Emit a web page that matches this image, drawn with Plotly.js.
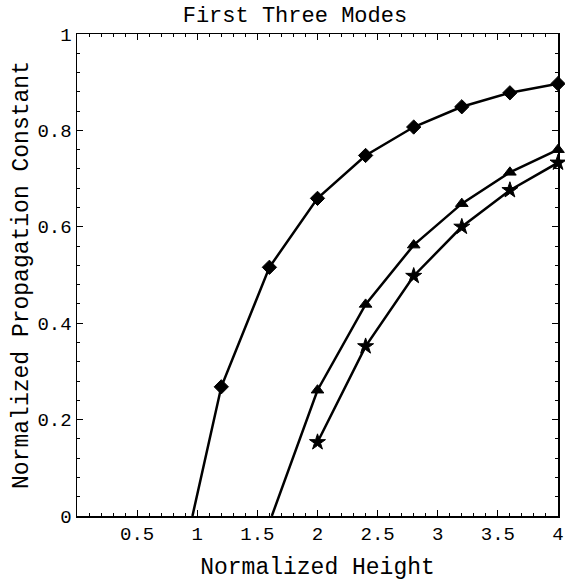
<!DOCTYPE html>
<html>
<head>
<meta charset="utf-8">
<script src="https://cdn.plot.ly/plotly-3.0.1.min.js"></script>
<style>html,body{margin:0;padding:0;background:#fff;}#chart{width:565px;height:581px;}</style>
</head>
<body>
<div id="chart"></div>
<script>
// Mode 1 (diamonds)
const mode1X = [0.96, 1.2, 1.6, 2.0, 2.4, 2.8, 3.2, 3.6, 4.0];
const mode1Y = [0, 0.268, 0.516, 0.659, 0.748, 0.807, 0.849, 0.878, 0.897];
// Mode 2 (triangles)
const mode2X = [1.62, 2.0, 2.4, 2.8, 3.2, 3.6, 4.0];
const mode2Y = [0, 0.261, 0.439, 0.562, 0.648, 0.713, 0.760];
// Mode 3 (stars)
const mode3X = [2.0, 2.4, 2.8, 3.2, 3.6, 4.0];
const mode3Y = [0.153, 0.352, 0.498, 0.600, 0.676, 0.733];

const xTickVals = [0.5, 1, 1.5, 2, 2.5, 3, 3.5, 4];
const xTickText = ["0.5", "1", "1.5", "2", "2.5", "3", "3.5", "4"];
const yTickVals = [0, 0.2, 0.4, 0.6, 0.8, 1];
const yTickText = ["0", "0.2", "0.4", "0.6", "0.8", "1"];

const FONT = "Liberation Mono, Courier New, monospace";

function sizes(arr, hideFirst, s) {
  return arr.map((v, i) => (hideFirst && i === 0) ? 0 : s);
}

function trace(xs, ys, symbol, hideFirst, s) {
  return {x: xs, y: ys, mode: 'lines+markers', line: {color: '#000', width: 2.5},
    marker: {symbol: symbol, size: sizes(xs, hideFirst, s), color: '#000', opacity: 1,
             line: {color: '#000', width: 1}},
    cliponaxis: false};
}

const traces = [
  trace(mode1X, mode1Y, 'diamond', true, 11),
  trace(mode2X, mode2Y, 'triangle-up', true, 11),
  trace(mode3X, mode3Y, 'star', false, 12)
];

const layout = {
  width: 565, height: 581,
  margin: {l: 77, r: 7, t: 34, b: 65},
  paper_bgcolor: '#fff', plot_bgcolor: '#fff',
  showlegend: false,
  font: {family: FONT, color: '#000'},
  title: {text: 'First Three Modes', font: {family: FONT, size: 22, color: '#000'},
          x: 0.522, xanchor: 'center', y: 0.988, yanchor: 'top'},
  xaxis: {
    range: [0, 4], showgrid: false, zeroline: false,
    showline: true, linecolor: '#000', linewidth: 1.5, mirror: 'allticks',
    ticks: 'inside', ticklen: 6, tickcolor: '#000', tickwidth: 1.2,
    tickvals: xTickVals, ticktext: xTickText,
    tickfont: {family: FONT, size: 19, color: '#000'},
    minor: {dtick: 0.1, ticks: 'inside', ticklen: 3, tickcolor: '#000', tickwidth: 1, showgrid: false},
    title: {text: 'Normalized Height', font: {family: FONT, size: 23, color: '#000'}, standoff: 16}
  },
  yaxis: {
    range: [0, 1], showgrid: false, zeroline: false,
    showline: true, linecolor: '#000', linewidth: 1.5, mirror: 'allticks',
    ticks: 'inside', ticklen: 6, tickcolor: '#000', tickwidth: 1.2,
    tickvals: yTickVals, ticktext: yTickText,
    tickfont: {family: FONT, size: 19, color: '#000'},
    minor: {dtick: 0.04, ticks: 'inside', ticklen: 3, tickcolor: '#000', tickwidth: 1, showgrid: false},
    title: {text: 'Normalized Propagation Constant', font: {family: FONT, size: 23, color: '#000'}, standoff: 2}
  }
};

Plotly.newPlot('chart', traces, layout, {displayModeBar: false, staticPlot: true});
</script>
</body>
</html>
